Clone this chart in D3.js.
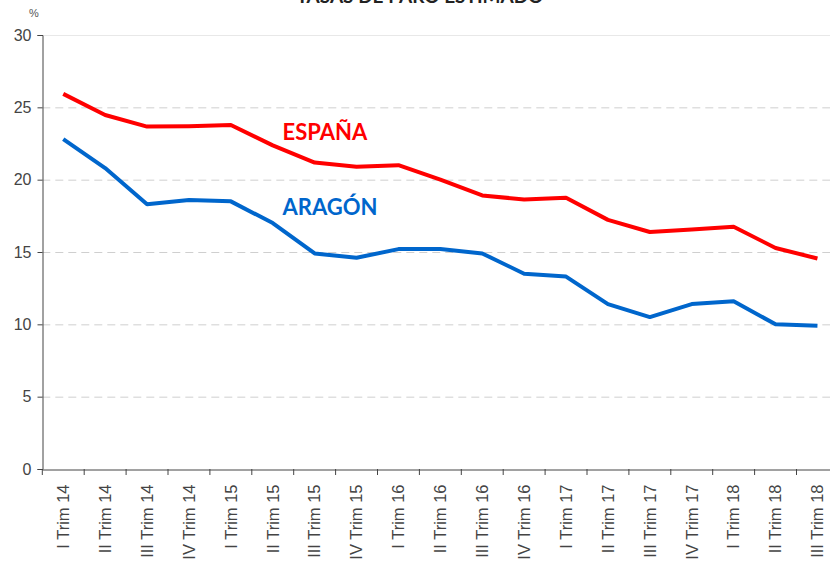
<!DOCTYPE html>
<html><head><meta charset="utf-8">
<script src="https://cdn.jsdelivr.net/npm/d3@7"></script>
<style>body{margin:0;background:#fff;overflow:hidden}svg{display:block}</style>
</head><body>
<svg id="c" width="830" height="563"></svg>
<script>
const categories = ["I Trim 14","II Trim 14","III Trim 14","IV Trim 14","I Trim 15","II Trim 15","III Trim 15","IV Trim 15","I Trim 16","II Trim 16","III Trim 16","IV Trim 16","I Trim 17","II Trim 17","III Trim 17","IV Trim 17","I Trim 18","II Trim 18","III Trim 18"];
const espana = [25.93,24.47,23.67,23.70,23.78,22.37,21.18,20.90,21.00,20.00,18.91,18.63,18.75,17.22,16.38,16.55,16.74,15.28,14.55];
const aragon = [22.8,20.8,18.3,18.6,18.5,17.0,14.9,14.6,15.2,15.2,14.9,13.5,13.3,11.4,10.5,11.4,11.6,10.0,9.9];
const yTicks = [0,5,10,15,20,25,30];
const title = "TASAS DE PARO ESTIMADO";

const svg = d3.select("#c");
const x = d3.scaleBand().domain(categories).range([42.3, 838.4]);
const y = d3.scaleLinear().domain([0,30]).range([469, 35]);

// title (cut off at top, as in the reference)
svg.append("text").attr("x",420).attr("y",3).attr("text-anchor","middle")
  .attr("font-family","Lato").attr("font-weight","bold").attr("font-size",19).attr("fill","#222").text(title);

// gridlines
svg.append("g").selectAll("line").data(yTicks.filter(d=>d>0)).join("line")
  .attr("x1",42.3).attr("x2",830).attr("y1",d=>y(d)+0.5).attr("y2",d=>y(d)+0.5)
  .attr("stroke",d=>d===30?"#e8e8e8":"#cfcfcf").attr("stroke-width",1)
  .attr("stroke-dasharray",d=>d===30?null:"8,5");

// y axis
const ya = svg.append("g").attr("transform","translate(42.5,0)")
  .call(d3.axisLeft(y).tickValues(yTicks).tickSize(5).tickPadding(6));
ya.select(".domain").attr("stroke","#444");
ya.selectAll(".tick line").attr("stroke","#444");
ya.selectAll("text").attr("font-family","Liberation Sans").attr("font-size",16).attr("fill","#444");

svg.append("text").attr("x",34).attr("y",17).attr("text-anchor","middle")
  .attr("font-family","Liberation Sans").attr("font-size",11).attr("fill","#555").text("%");

// x axis
const xa = svg.append("g").attr("transform","translate(0,469.5)")
  .call(d3.axisBottom(x).tickSize(0));
xa.select(".domain").attr("stroke","#444");
xa.selectAll(".tick text").attr("transform","rotate(-90)").attr("text-anchor","end")
  .attr("x",-15).attr("y",0).attr("dy","0.35em")
  .attr("font-family","Liberation Sans").attr("font-size",16.5).attr("fill","#444");
// boundary ticks
svg.append("g").selectAll("line").data(categories).join("line")
  .attr("x1",d=>x(d)).attr("x2",d=>x(d)).attr("y1",469).attr("y2",475)
  .attr("stroke","#444");

const line = d3.line().x((d,i)=>x(categories[i])+x.bandwidth()/2).y(d=>y(d));
svg.append("path").datum(espana).attr("d",line).attr("fill","none")
  .attr("stroke","#ff0000").attr("stroke-width",4).attr("stroke-linejoin","round");
svg.append("path").datum(aragon).attr("d",line).attr("fill","none")
  .attr("stroke","#0066cc").attr("stroke-width",4).attr("stroke-linejoin","round");

svg.append("text").attr("x",282.5).attr("y",139.5).attr("font-family","Lato").attr("font-weight","bold")
  .attr("font-size",22).attr("fill","#ff0000").text("ESPAÑA");
svg.append("text").attr("x",282.5).attr("y",215).attr("font-family","Lato").attr("font-weight","bold")
  .attr("font-size",22).attr("fill","#0066cc").text("ARAGÓN");
</script>
</body></html>
